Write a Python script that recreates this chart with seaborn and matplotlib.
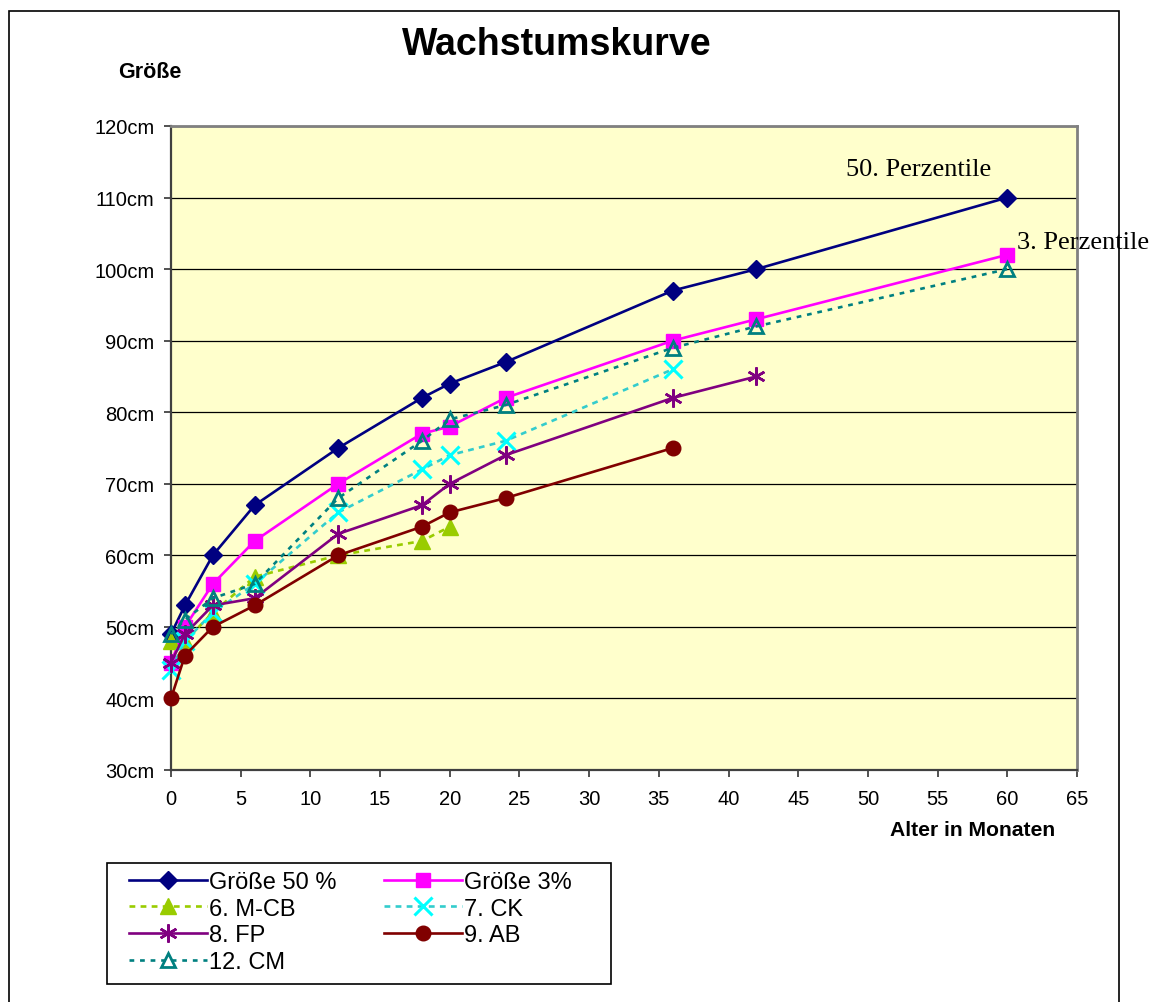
import matplotlib
matplotlib.use("Agg")
import matplotlib.pyplot as plt
from matplotlib.patches import Rectangle
import pandas as pd
import seaborn as sns

# Daten
monate = [0, 1, 3, 6, 12, 18, 20, 24, 36, 42, 60]

groesse_50 = [49, 53, 60, 67, 75, 82, 84, 87, 97, 100, 110]
groesse_3 = [45, 50, 56, 62, 70, 77, 78, 82, 90, 93, 102]
m_cb = [48, 48, 52, 57, 60, 62, 64]
ck = [44, 48, 52, 56, 66, 72, 74, 76, 86]
fp = [45, 49, 53, 54, 63, 67, 70, 74, 82, 85]
ab = [40, 46, 50, 53, 60, 64, 66, 68, 75]
cm = [49, 51, 54, 56, 68, 76, 79, 81, 89, 92, 100]

namen = ["Größe 50 %", "Größe 3%", "6. M-CB", "7. CK", "8. FP", "9. AB", "12. CM"]
werte = [groesse_50, groesse_3, m_cb, ck, fp, ab, cm]

y_ticks = list(range(30, 121, 10))
x_ticks = list(range(0, 66, 5))

rows = []
for name, vals in zip(namen, werte):
    for m, v in zip(monate, vals):
        rows.append({"Serie": name, "Monat": m, "Größe": v})
df = pd.DataFrame(rows)

# Stil je Serie
stile = {
    "Größe 50 %": dict(color="#000080", marker="D", markersize=9.5, markerfacecolor="#000080",
                       markeredgecolor="#000080", markeredgewidth=1, linestyle="-"),
    "Größe 3%": dict(color="#FF00FF", marker="s", markersize=10.5, markerfacecolor="#FF00FF",
                     markeredgecolor="#FF00FF", markeredgewidth=1, linestyle="-"),
    "6. M-CB": dict(color="#99CC00", marker="^", markersize=11, markerfacecolor="#99CC00",
                    markeredgecolor="#99CC00", markeredgewidth=1, linestyle=(0, (2.2, 2))),
    "7. CK": dict(color="#33CCCC", marker="x", markersize=12.5, markerfacecolor="#00FFFF",
                  markeredgecolor="#00FFFF", markeredgewidth=2.2, linestyle=(0, (2.2, 2))),
    "8. FP": dict(color="#800080", marker=(6, 2, 0), markersize=13, markerfacecolor="#800080",
                  markeredgecolor="#800080", markeredgewidth=1.8, linestyle="-"),
    "9. AB": dict(color="#800000", marker="o", markersize=10.5, markerfacecolor="#800000",
                  markeredgecolor="#800000", markeredgewidth=1, linestyle="-"),
    "12. CM": dict(color="#008080", marker="^", markersize=10, markerfacecolor="none",
                   markeredgecolor="#008080", markeredgewidth=2, linestyle=(0, (1.8, 2.2))),
}

plt.rcParams["font.family"] = ["Liberation Sans", "DejaVu Sans"]

W, H = 1152, 1003
fig = plt.figure(figsize=(W / 100, H / 100), dpi=100)
ax = fig.add_axes([171 / W, 1 - 771 / H, (1077 - 171) / W, (771 - 127) / H])
ax.set_facecolor("#FFFFCC")

handles = {}
for name in namen:
    sub = df[df["Serie"] == name]
    sns.lineplot(data=sub, x="Monat", y="Größe", ax=ax, linewidth=1.9,
                 legend=False, clip_on=False, zorder=3, **stile[name])
    handles[name] = ax.lines[-1]

ax.set_xlim(0, 65)
ax.set_ylim(30, 120)
ax.set_xticks(x_ticks)
ax.set_yticks(y_ticks)
ax.set_yticklabels([f"{v}cm" for v in y_ticks])
ax.set_xlabel("")
ax.set_ylabel("")
ax.yaxis.grid(True, color="black", linewidth=0.9)
ax.set_axisbelow(True)
ax.tick_params(axis="both", labelsize=14.5, length=5, width=1.2, color="#333333")
ax.tick_params(axis="y", pad=7)
ax.tick_params(axis="x", pad=9)

for side in ["top", "right"]:
    ax.spines[side].set_color("#808080")
    ax.spines[side].set_linewidth(2)
for side in ["left", "bottom"]:
    ax.spines[side].set_color("#404040")
    ax.spines[side].set_linewidth(1.6)

# Beschriftungen
fig.text(557 / W, 1 - 45 / H, "Wachstumskurve", ha="center", va="center",
         fontsize=27, fontweight="bold")
fig.text(118 / W, 1 - 72 / H, "Größe", ha="left", va="center",
         fontsize=15.5, fontweight="bold")
fig.text(1055 / W, 1 - 831 / H, "Alter in Monaten", ha="right", va="center",
         fontsize=15.2, fontweight="bold")

ax.text(48.4, 114, "50. Perzentile", fontsize=19, family="Liberation Serif",
        ha="left", va="center", clip_on=False)
ax.text(60.7, 103.8, "3. Perzentile", fontsize=19, family="Liberation Serif",
        ha="left", va="center", clip_on=False, zorder=5)

# Rahmen des Diagrammbereichs
fig.patches.append(Rectangle((9 / W, -0.02), (1119 - 9) / W, (H - 12) / H + 0.02,
                             transform=fig.transFigure, fill=False,
                             edgecolor="black", linewidth=1.2))

# Legende (zeilenweise Reihenfolge wie im Original)
reihenfolge = ["Größe 50 %", "6. M-CB", "8. FP", "12. CM", "Größe 3%", "7. CK", "9. AB"]
leg = fig.legend([handles[n] for n in reihenfolge], reihenfolge,
                 loc="upper left", bbox_to_anchor=(129 / W, 1 - 872 / H),
                 ncol=2, frameon=False, fontsize=17, handlelength=3.3,
                 handletextpad=0.1, columnspacing=2.0, labelspacing=0.2,
                 borderpad=0, borderaxespad=0, numpoints=1)
fig.patches.append(Rectangle((107 / W, 1 - 985 / H), (611 - 107) / W, (985 - 864) / H,
                             transform=fig.transFigure, fill=False,
                             edgecolor="black", linewidth=1.2))

fig.savefig("out.png", dpi=100, facecolor="white")
